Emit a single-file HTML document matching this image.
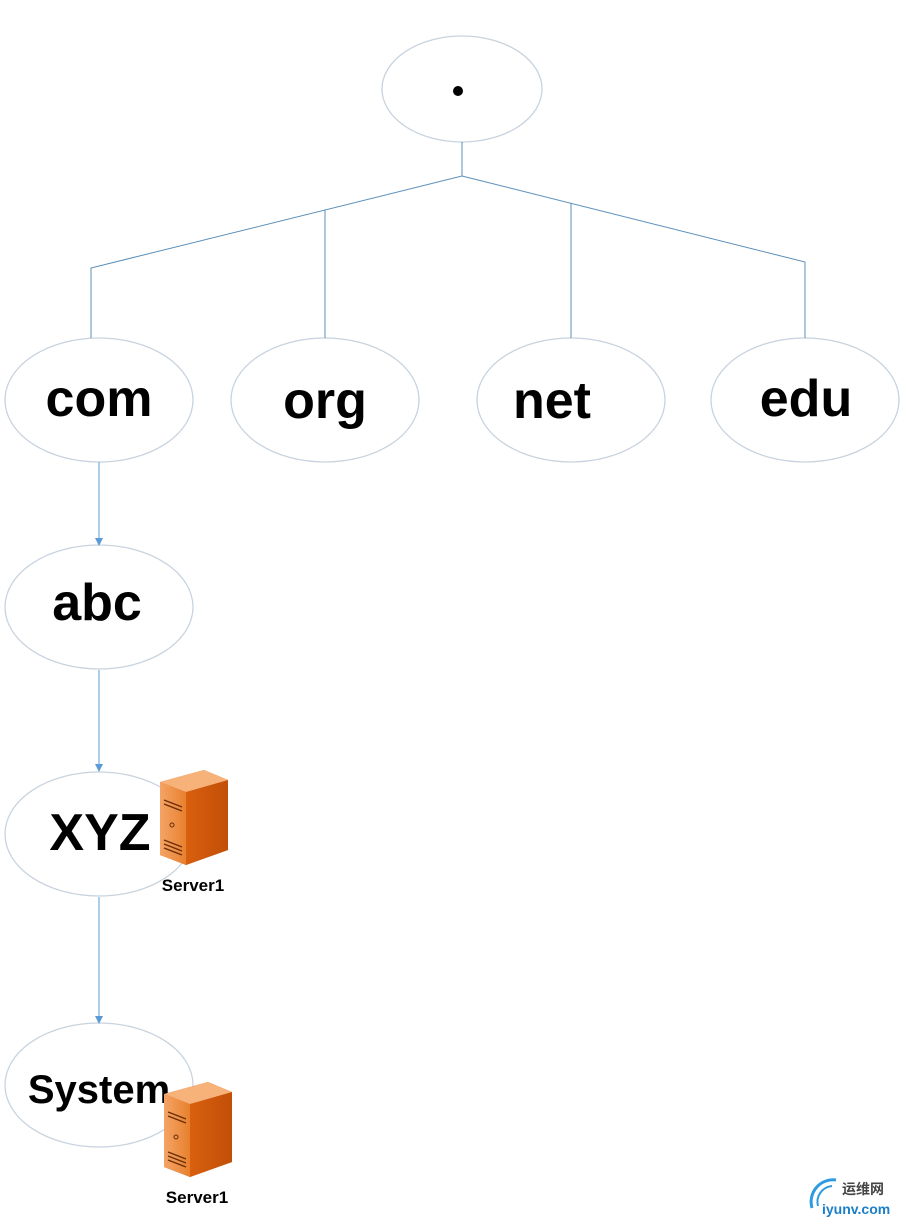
<!DOCTYPE html>
<html><head><meta charset="utf-8"><style>
html,body{margin:0;padding:0;background:#fff;width:905px;height:1223px;overflow:hidden}
svg text{font-family:"Liberation Sans","Noto Sans CJK SC",sans-serif;font-weight:bold}
</style></head><body>
<svg width="905" height="1223" viewBox="0 0 905 1223" xmlns="http://www.w3.org/2000/svg">
<defs>
<marker id="a" markerWidth="8" markerHeight="8" refX="7" refY="4" orient="auto" markerUnits="userSpaceOnUse"><path d="M0,0 L8,4 L0,8 z" fill="#5b9bd5"/></marker>
<linearGradient id="f" x1="0" x2="1"><stop offset="0" stop-color="#f4a466"/><stop offset="1" stop-color="#e8802e"/></linearGradient>
<linearGradient id="s" x1="0" x2="1"><stop offset="0" stop-color="#d8600f"/><stop offset="1" stop-color="#c24f08"/></linearGradient>
<g id="srv">
<polygon points="0,12 44,0 68,10 68,80 26,95 0,85" fill="#c85a10"/>
<polygon points="0,12 26,22 26,95 0,85" fill="url(#f)"/>
<polygon points="26,22 68,10 68,80 26,95" fill="url(#s)"/>
<polygon points="0,12 44,0 68,10 26,22" fill="#f7b27a"/>
<path d="M4,30 L22,37 M4,34 L22,41 M4,70 L22,77 M4,74 L22,81 M4,78 L22,85" stroke="#6b2d05" stroke-width="1.3"/>
<circle cx="12" cy="55" r="2" fill="none" stroke="#6b2d05"/>
</g>
</defs>
<g fill="#fff" stroke="#c9d3de" stroke-width="1.3">
<ellipse cx="462" cy="89" rx="80" ry="53"/>
<ellipse cx="99" cy="400" rx="94" ry="62"/>
<ellipse cx="325" cy="400" rx="94" ry="62"/>
<ellipse cx="571" cy="400" rx="94" ry="62"/>
<ellipse cx="805" cy="400" rx="94" ry="62"/>
<ellipse cx="99" cy="607" rx="94" ry="62"/>
<ellipse cx="99" cy="834" rx="94" ry="62"/>
<ellipse cx="99" cy="1085" rx="94" ry="62"/>
</g>
<g stroke="#5b8fb9" stroke-width="1" fill="none">
<path d="M462,142 V176 L91,268 V338"/>
<path d="M462,176 L805,262 V338"/>
<path d="M325,210 V338"/>
<path d="M571,203 V338"/>
</g>
<g stroke="#5b9bd5" stroke-width="1" marker-end="url(#a)">
<line x1="99" y1="462" x2="99" y2="545"/>
<line x1="99" y1="670" x2="99" y2="771"/>
<line x1="99" y1="897" x2="99" y2="1023"/>
</g>
<circle cx="458" cy="91" r="5" fill="#000"/>
<g font-size="52" text-anchor="middle" fill="#000">
<text x="99" y="416">com</text>
<text x="325" y="418">org</text>
<text x="552" y="418">net</text>
<text x="806" y="416">edu</text>
<text x="97" y="620">abc</text>
<text x="100" y="850">XYZ</text>
</g>
<text x="99" y="1103" font-size="40" text-anchor="middle">System</text>
<use href="#srv" x="160" y="770"/>
<use href="#srv" x="164" y="1082"/>
<text x="193" y="891" font-size="17" text-anchor="middle">Server1</text>
<text x="197" y="1203" font-size="17" text-anchor="middle">Server1</text>
<path d="M836,1180 A22,22 0 0 0 812,1208" stroke="#2e9be0" stroke-width="3" fill="none"/>
<path d="M832,1186 A16,16 0 0 0 818,1206" stroke="#2e9be0" stroke-width="2" fill="none"/>
<text x="842" y="1194" font-size="14" font-weight="normal" fill="#444">运维网</text>
<text x="822" y="1214" font-size="14" font-weight="normal" fill="#1a7fc8">iyunv.com</text>
</svg>
</body></html>
